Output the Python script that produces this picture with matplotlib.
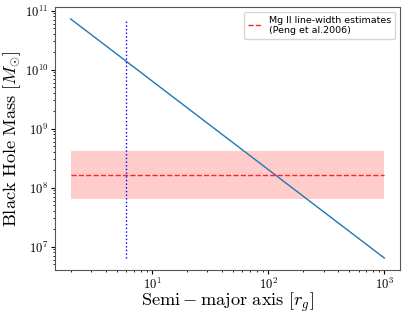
import numpy as np
import matplotlib
matplotlib.use('Agg')
import matplotlib.pyplot as plt

plt.rcParams['font.family'] = 'serif'
plt.rcParams['font.serif'] = ['cmr10']
plt.rcParams['mathtext.fontset'] = 'cm'
plt.rcParams['axes.formatter.use_mathtext'] = True

# orbite : masse du trou noir en fonction du demi-grand axe
a_vals = [2, 1000]
mass_vals = [7.2e10, 6.4e6]

# rayon ISCO
a_isco = 6

# estimation Mg II (Peng et al. 2006)
mg_mass = 1.66e8
mg_low = 6.3e7
mg_high = 4.1e8

fig = plt.figure(figsize=(4.07, 3.17), dpi=100)
ax = fig.add_axes([55/407, 47/317, 345/407, 263/317])

ax.plot(a_vals, mass_vals, color='C0', lw=1)
ax.vlines(a_isco, min(mass_vals), max(mass_vals), colors='b', linestyles=':', lw=1)
ax.fill_between(a_vals, mg_low, mg_high, color='r', alpha=0.2, lw=0)
ax.plot(a_vals, [mg_mass, mg_mass], color='#ff2020', ls='--', lw=1,
        label='Mg II line-width estimates\n(Peng et al.2006)')

ax.set_xscale('log')
ax.set_yscale('log')
ax.set_xlabel(r'$\mathrm{Semi-major\ axis}\ [r_g]$', fontsize=13.2, labelpad=-1)
ax.set_ylabel(r'$\mathrm{Black\ Hole\ Mass}\ [M_{\odot}]$', fontsize=13.2, labelpad=1)
ax.tick_params(labelsize=9, which='major', length=3, pad=2)
ax.tick_params(which='minor', length=1.6)
for s in ax.spines.values():
    s.set_color('#555555')

leg = ax.legend(loc='upper right', prop={'family': 'DejaVu Sans', 'size': 6.8},
                handlelength=1.5)

fig.savefig('out.png', dpi=100)
